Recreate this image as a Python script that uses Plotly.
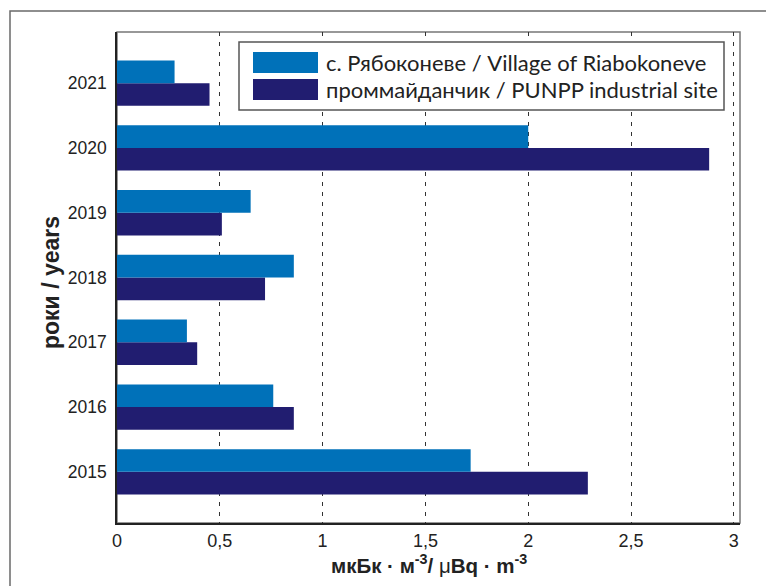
import plotly.graph_objects as go

years = ["2015", "2016", "2017", "2018", "2019", "2020", "2021"]
village = [1.72, 0.76, 0.34, 0.86, 0.65, 2.0, 0.28]
site = [2.29, 0.86, 0.39, 0.72, 0.51, 2.88, 0.45]
name_village = "с. Рябоконеве / Village of Riabokoneve"
name_site = "проммайданчик / PUNPP industrial site"
xticks = [0, 0.5, 1, 1.5, 2, 2.5, 3]
xticklabels = ["0", "0,5", "1", "1,5", "2", "2,5", "3"]

C_LIGHT = "#0071b9"
C_DARK = "#211d70"
TICK = "Liberation Sans, Arial, sans-serif"
LEG = "Lato, Open Sans, sans-serif"
BOLD = "Liberation Sans, Arial, sans-serif"

# the page body adds an 8px margin; the figure fills the rest of the window
OFF = 8
W, H = 774 - OFF, 586 - OFF
L, R, T, B = 117, 740, 32, 523  # plot area in window pixels


def px(x):
    return (x - L) / (R - L)


def py(y):
    return (B - y) / (B - T)


fig = go.Figure()
fig.add_trace(go.Bar(y=years, x=site, orientation="h", name=name_site,
                     marker=dict(color=C_DARK, line=dict(width=0)), showlegend=False))
fig.add_trace(go.Bar(y=years, x=village, orientation="h", name=name_village,
                     marker=dict(color=C_LIGHT, line=dict(width=0)), showlegend=False))

shapes = [
    # outer frame
    dict(type="rect", xref="paper", yref="paper", x0=px(10), x1=px(800), y0=py(620), y1=py(11),
         line=dict(color="#6a6a6a", width=1.5), layer="below"),
    # plot frame (top/right grey)
    dict(type="rect", xref="paper", yref="paper", x0=0, x1=1, y0=0, y1=1,
         line=dict(color="#777777", width=1.5), layer="below"),
    # legend box
    dict(type="rect", xref="paper", yref="paper", x0=px(239), x1=px(724), y0=py(110), y1=py(42),
         line=dict(color="#555555", width=1.5), fillcolor="white", layer="above"),
    dict(type="rect", xref="paper", yref="paper", x0=px(253), x1=px(318), y0=py(73), y1=py(52),
         line=dict(width=0), fillcolor=C_LIGHT, layer="above"),
    dict(type="rect", xref="paper", yref="paper", x0=px(253), x1=px(318), y0=py(100), y1=py(79),
         line=dict(width=0), fillcolor=C_DARK, layer="above"),
]

annotations = [
    dict(xref="paper", yref="paper", x=px(324), y=py(62.5), text=name_village, showarrow=False,
         xanchor="left", yanchor="middle", font=dict(family=LEG, size=22, color="#222222")),
    dict(xref="paper", yref="paper", x=px(324), y=py(89.5), text=name_site, showarrow=False,
         xanchor="left", yanchor="middle", font=dict(family=LEG, size=22, color="#222222")),
    dict(xref="paper", yref="paper", x=px(428.5), y=py(564), showarrow=False,
         xanchor="center", yanchor="middle",
         text="<b>мкБк · м<sup>-3</sup>/ </b>μ<b>Bq · m<sup>-3</sup></b>",
         font=dict(family=BOLD, size=20.5, color="#222222")),
    dict(xref="paper", yref="paper", x=px(51), y=py(283), showarrow=False, textangle=-90,
         xanchor="center", yanchor="middle", text="<b>роки / years</b>",
         font=dict(family=BOLD, size=23, color="#222222")),
]

fig.update_layout(
    width=W, height=H,
    margin=dict(l=L - OFF, r=W - (R - OFF), t=T - OFF, b=H - (B - OFF), pad=0),
    paper_bgcolor="white", plot_bgcolor="white",
    barmode="group", bargap=0.3, bargroupgap=0,
    shapes=shapes, annotations=annotations,
    xaxis=dict(range=[0, 3.03], tickvals=xticks, ticktext=xticklabels, automargin=False,
               showgrid=True, gridcolor="#333333", gridwidth=1, griddash="4px,6px",
               zeroline=False, showline=True, linecolor="#222222", linewidth=1.5,
               ticks="", ticklabelstandoff=1, tickfont=dict(family=TICK, size=18, color="#222222")),
    yaxis=dict(type="category", categoryorder="array", categoryarray=years, range=[-0.79, 6.79],
               automargin=False,
               showgrid=False, zeroline=False, showline=True, linecolor="#222222", linewidth=1.5,
               ticks="", ticklabelstandoff=5, tickfont=dict(family=TICK, size=17.5, color="#222222")),
)

fig.write_html("out.html")
